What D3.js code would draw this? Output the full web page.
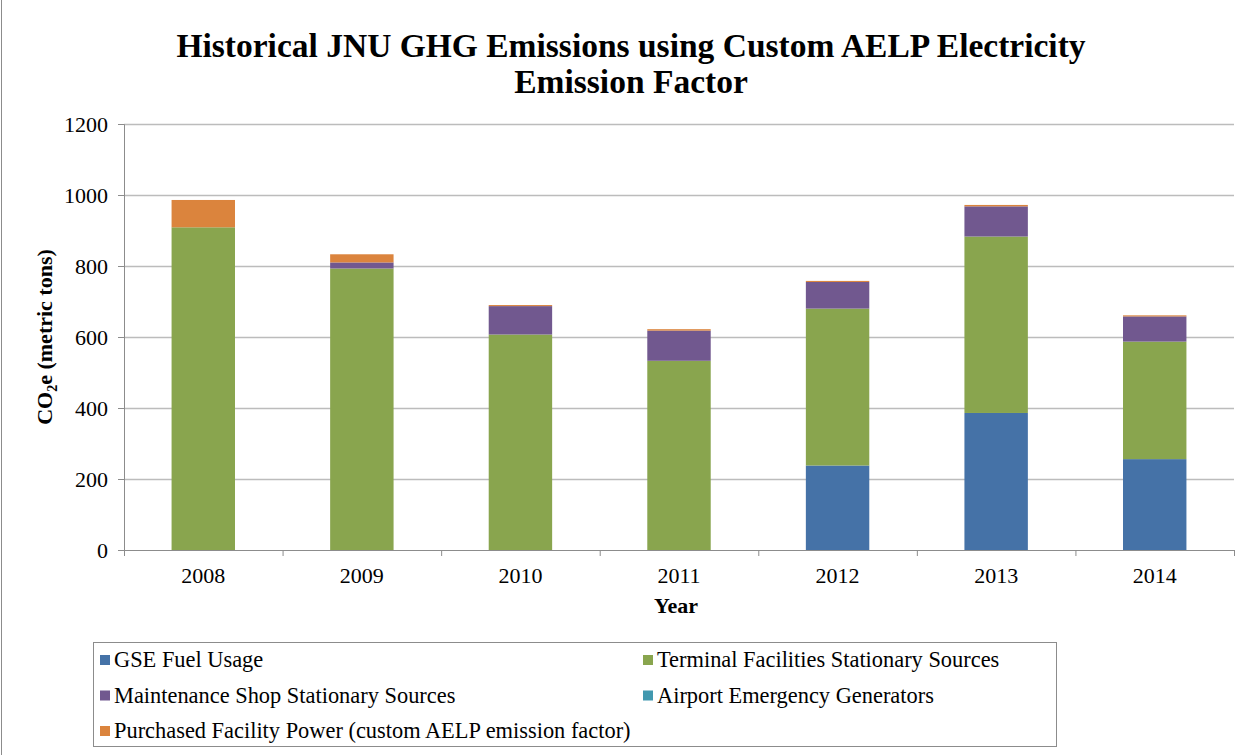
<!DOCTYPE html>
<html>
<head>
<meta charset="utf-8">
<script src="https://cdnjs.cloudflare.com/ajax/libs/d3/7.8.5/d3.min.js"></script>
<style>
  html, body { margin: 0; padding: 0; background: #fff; overflow: hidden; }
  svg { display: block; font-family: "Liberation Serif", "Times New Roman", serif; }
</style>
</head>
<body>
<svg width="1252" height="755"></svg>
<script>
// data (metric tons CO2e)
const years = ['2008', '2009', '2010', '2011', '2012', '2013', '2014'];
const gseFuel     = [0, 0, 0, 0, 238, 386, 256];
const terminal    = [909, 793, 607, 533, 442, 497, 331];
const maintenance = [0, 17, 80, 85, 75, 85, 71];
const generators  = [0, 0, 0, 0, 0, 0, 0];
const purchased   = [77, 23, 3, 4, 3, 4, 3];
const yTicks = [0, 200, 400, 600, 800, 1000, 1200];

const seriesNames = [
  'GSE Fuel Usage',
  'Terminal Facilities Stationary Sources',
  'Maintenance Shop Stationary Sources',
  'Airport Emergency Generators',
  'Purchased Facility Power (custom AELP emission factor)'
];
const colors = ['#4572A7', '#89A54E', '#71588F', '#4198AF', '#DB843D'];
const seriesValues = [gseFuel, terminal, maintenance, generators, purchased];

const table = years.map((y, i) => {
  const row = {year: y};
  seriesNames.forEach((s, k) => row[s] = seriesValues[k][i]);
  return row;
});

const svg = d3.select('svg');
const width = +svg.attr('width');

const margin = {top: 124, right: 18, bottom: 205, left: 124};
const innerWidth = width - margin.left - margin.right;
const innerHeight = +svg.attr('height') - margin.top - margin.bottom;

// outer chart border (only left edge is in frame)
svg.append('line')
  .attr('x1', 1.5).attr('x2', 1.5)
  .attr('y1', 0).attr('y2', 755)
  .attr('stroke', '#8c8c8c');

const xScale = d3.scaleBand()
  .domain(years)
  .range([0, innerWidth])
  .paddingInner(0.6)
  .paddingOuter(0.3);

const yScale = d3.scaleLinear()
  .domain([0, 1200])
  .range([innerHeight, 0]);

const g = svg.append('g')
  .attr('transform', `translate(${margin.left}, ${margin.top})`);

// gridlines
g.append('g')
  .selectAll('line').data(yTicks.slice(1))
  .enter().append('line')
    .attr('x1', 0).attr('x2', innerWidth)
    .attr('y1', d => yScale(d) + 0.5).attr('y2', d => yScale(d) + 0.5)
    .attr('stroke', '#bcbcbc')
    .attr('stroke-width', 1.5);

// y axis
const yAxisG = g.append('g')
  .call(d3.axisLeft(yScale).tickValues(yTicks).tickFormat(d3.format('d')).tickSize(6).tickPadding(10))
  .attr('font-family', null)
  .attr('font-size', 22);
yAxisG.selectAll('.domain, .tick line').attr('stroke', '#8c8c8c');
// plain pixel offsets instead of em-based dy
yAxisG.selectAll('.tick text')
  .attr('fill', '#000')
  .attr('dy', null)
  .attr('y', 7);

// stacked bars
const stacked = d3.stack().keys(seriesNames)(table);
g.selectAll('.layer').data(stacked)
  .enter().append('g')
    .attr('class', 'layer')
    .attr('fill', (d, i) => colors[i])
  .selectAll('rect').data(d => d)
  .enter().append('rect')
    .attr('x', d => xScale(d.data.year))
    .attr('y', d => yScale(d[1]))
    .attr('width', xScale.bandwidth())
    .attr('height', d => yScale(d[0]) - yScale(d[1]));

// x axis: ticks between categories
const xAxisG = g.append('g')
  .attr('transform', `translate(0, ${innerHeight})`)
  .call(d3.axisBottom(xScale).tickSize(0).tickPadding(17))
  .attr('font-family', null)
  .attr('font-size', 22);
xAxisG.select('.domain').attr('stroke', '#8c8c8c');
xAxisG.selectAll('.tick text')
  .attr('fill', '#000')
  .attr('dy', null)
  .attr('y', 33);
const step = xScale.step();
xAxisG.selectAll('.sep').data(d3.range(years.length + 1))
  .enter().append('line')
    .attr('x1', i => i * step + 0.5).attr('x2', i => i * step + 0.5)
    .attr('y1', 0).attr('y2', 6)
    .attr('stroke', '#8c8c8c');

// axis titles
g.append('text')
  .attr('x', innerWidth / 2 - 3)
  .attr('y', innerHeight + 63)
  .attr('text-anchor', 'middle')
  .attr('font-weight', 'bold')
  .attr('font-size', 22)
  .text('Year');

const yLabel = svg.append('text')
  .attr('transform', `translate(52, ${margin.top + innerHeight / 2}) rotate(-90)`)
  .attr('text-anchor', 'middle')
  .attr('font-weight', 'bold')
  .attr('font-size', 22);
yLabel.append('tspan').text('CO');
yLabel.append('tspan').attr('font-size', 14).attr('baseline-shift', -5).text('2');
yLabel.append('tspan').text('e (metric tons)');

// title
const title = svg.append('text')
  .attr('text-anchor', 'middle')
  .attr('font-weight', 'bold')
  .attr('font-size', 33.5);
title.append('tspan').attr('x', 631).attr('y', 57)
  .text('Historical JNU GHG Emissions using Custom AELP Electricity');
title.append('tspan').attr('x', 631).attr('y', 93)
  .text('Emission Factor');

// legend
const legend = svg.append('g').attr('transform', 'translate(93, 642)');
legend.append('rect')
  .attr('x', 0.5).attr('y', 0.5)
  .attr('width', 963).attr('height', 104)
  .attr('fill', 'none')
  .attr('stroke', '#8c8c8c');
const legendItems = legend.selectAll('.item').data(seriesNames)
  .enter().append('g')
    .attr('class', 'item')
    .attr('transform', (d, i) => `translate(${i % 2 === 0 ? 7 : 550}, ${18 + Math.floor(i / 2) * 35.5})`);
legendItems.append('rect')
  .attr('x', 0).attr('y', -5)
  .attr('width', 10).attr('height', 10)
  .attr('fill', (d, i) => colors[i]);
legendItems.append('text')
  .attr('x', 14).attr('y', 7)
  .attr('font-size', 22.4)
  .text(d => d);
</script>
</body>
</html>
